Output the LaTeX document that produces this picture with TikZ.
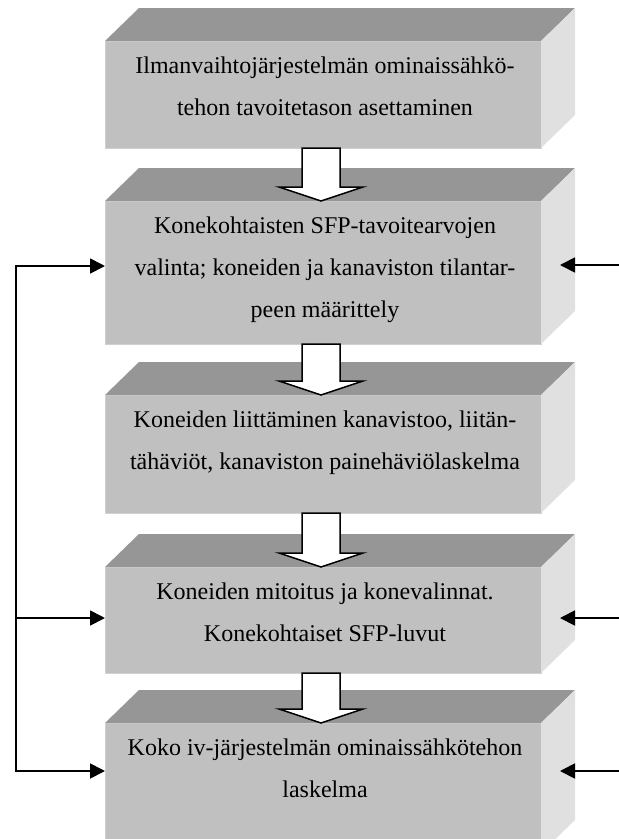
\documentclass[tikz,border=0pt]{standalone}
\usepackage{fontspec}
\setmainfont{Liberation Serif}
\usetikzlibrary{arrows.meta,calc}
\definecolor{frontgray}{RGB}{192,192,192}
\definecolor{topgray}{RGB}{150,150,150}
\definecolor{sidegray}{RGB}{224,224,224}
\definecolor{edgegray}{RGB}{208,208,208}
\newcommand\cubefaces[1]{%
  \fill[topgray] (#1.north west) -- ++(34,-33) -- ++(436,0) -- (#1.north east) -- cycle;
  \fill[sidegray] (#1.north east) -- ++(34,-33) -- ($(#1.south east)+(34,-33)$) -- (#1.south east) -- cycle;}
\newcommand\flowarrow[2]{%
  \draw[blockarrow] let \p1=(#1.south), \p2=(#2.north) in
    (\x1-21pt,\y1) -- (\x1-21pt,\y2+14pt) -- (\x1-44pt,\y2+14pt) -- (\x1-2pt,\y2)
    -- (\x1+40pt,\y2+14pt) -- (\x1+17pt,\y2+14pt) -- (\x1+17pt,\y1) -- cycle;}
\begin{document}
\begin{tikzpicture}[x=1pt,y=-1pt,
  front/.style={rectangle, fill=frontgray, draw=edgegray, line width=1pt,
    minimum width=436pt, anchor=north, outer sep=0pt, inner sep=0pt},
  boxtext/.style={anchor=north, align=center, inner sep=0pt,
    font=\fontsize{24}{42}\selectfont},
  feedback/.style={line width=1.8pt, line join=miter, >={Triangle[length=15pt,width=15pt]}},
  blockarrow/.style={draw=black, fill=white, line width=1.5pt, line join=miter}]
\useasboundingbox (0,0) rectangle (619,839);
\clip (0,0) rectangle (619,839);

% boxes
\node[front, minimum height=107pt] (b1) at (323,41) {};
\cubefaces{b1}
\node[front, minimum height=143pt] (b2) at (323,201) {};
\cubefaces{b2}
\node[front, minimum height=118pt] (b3) at (323,395) {};
\cubefaces{b3}
\node[front, minimum height=106pt] (b4) at (323,567) {};
\cubefaces{b4}
\node[front, minimum height=130pt] (b5) at (323,723) {};
\cubefaces{b5}

% texts
\node[boxtext] (t1) at ($(b1.north)+(2,2.6)$) {\strut Ilmanvaihtojärjestelmän ominaissähkö-\\tehon tavoitetason asettaminen};
\node[boxtext] (t2) at ($(b2.north)+(2,2.6)$) {\strut Konekohtaisten SFP-tavoitearvojen\\valinta; koneiden ja kanaviston tilantar-\\peen määrittely};
\node[boxtext] (t3) at ($(b3.north)+(2,2.6)$) {\strut Koneiden liittäminen kanavistoo, liitän-\\tähäviöt, kanaviston painehäviölaskelma};
\node[boxtext] (t4) at ($(b4.north)+(2,2.6)$) {\strut Koneiden mitoitus ja konevalinnat.\\Konekohtaiset SFP-luvut};
\node[boxtext] (t5) at ($(b5.north)+(2,2.6)$) {\strut Koko iv-järjestelmän ominaissähkötehon\\laskelma};

% block arrows
\flowarrow{b1}{b2}
\flowarrow{b2}{b3}
\flowarrow{b3}{b4}
\flowarrow{b4}{b5}

% feedback connectors
\coordinate (L2) at (16,266);
\coordinate (L4) at (16,618);
\coordinate (L5) at (16,771);
\coordinate (R2) at (619,265);
\coordinate (R4) at (619,618);
\coordinate (R5) at (619,771);
\draw[feedback, <->] (L2 -| b2.west) -- (L2) -- (L5) -- (L5 -| b5.west);
\draw[feedback, ->] (L4) -- (L4 -| b4.west);
\draw[feedback, ->] (R2) -- ($(R2 -| b2.east)+(19,0)$);
\draw[feedback, ->] (R4) -- ($(R4 -| b4.east)+(19,0)$);
\draw[feedback, ->] (R5) -- ($(R5 -| b5.east)+(19,0)$);
\end{tikzpicture}
\end{document}
